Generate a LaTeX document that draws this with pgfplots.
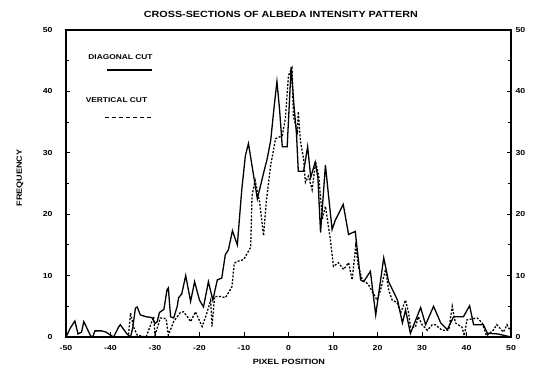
\documentclass[border=0pt]{standalone}
\usepackage{pgfplots}
\pgfplotsset{compat=1.18}
\usepackage{fontspec}
\setmainfont{Liberation Sans}
\newfontfamily\pf{Liberation Sans}[FakeStretch=1.2]
\begin{document}
\begin{tikzpicture}
\pgfplotsset{
  common/.style={
    at={(0,0)}, anchor=south west,
    scale only axis, width=445bp, height=307bp,
    xmin=-50, xmax=50, ymin=0, ymax=50,
    /pgf/number format/assume math mode=true,
    every tick label/.append style={font=\pf\bfseries\fontsize{7.3}{8}\selectfont},
  }
}
\begin{axis}[common,
  xtick={-50,-40,...,50}, ytick={0,10,...,50},
  minor y tick num=1,
  xtick pos=lower, ytick pos=both,
  tick align=inside,
  major tick length=4.5bp, minor tick length=3bp,
  axis line style={line width=1.1bp},
  every tick/.style={line width=0.9bp, black},
  yticklabel style={xshift=-10bp},
  xticklabel style={yshift=-5bp},
  clip=false,
]
\addplot[black, line width=1.3bp] coordinates {
(-50,0) (-49,1.5) (-48,2.6) (-47.3,0.5) (-46.5,0.8) (-46,2.5) (-45,1) (-44.5,0.2) (-44,0) (-43.5,1) (-42,1) (-41,0.8) (-40,0.3) (-39.3,0) (-38.2,1.6) (-37.8,2) (-37,1.2) (-36.3,0.5) (-35.5,0) (-35,1.5) (-34.4,4.7) (-34,4.9) (-33.3,3.6) (-32,3.3) (-31,3.2) (-30.6,3.1) (-30,2.2) (-29.5,2.5) (-29,4) (-28,4.5) (-27.3,7.7) (-27,8) (-26.5,3.3) (-25.8,3.1) (-25,5) (-24.7,6.4) (-24,7) (-23.1,10) (-22,5.8) (-21.1,9) (-20,6) (-19.1,4.9) (-18,9) (-17,6) (-16,9.3) (-15,9.6) (-14.2,13.4) (-13.5,14.2) (-12.6,17.3) (-11.5,15) (-10.5,24) (-9.7,29.5) (-9,31.5) (-8,27) (-7,22.5) (-6.5,24) (-5.5,27) (-4.8,29) (-4,32) (-3.3,37) (-2.6,41.6) (-2,37) (-1.4,31) (-0.3,31) (0.6,44) (1.2,38) (1.8,33) (2.2,27) (3.4,27) (4.3,31) (5,26) (6,28.5) (6.6,26) (7.2,17) (8.3,28) (9,23) (9.8,17.5) (10.5,19) (12.3,21.6) (13.5,16.7) (15,17.2) (16.2,9.3) (16.9,9) (18.4,10.7) (19.6,3.6) (21.4,12.9) (22.5,9) (24.5,6) (25.6,2.3) (26.3,4.4) (27.4,0.6) (29.7,4.8) (30.8,2) (32.6,5) (34.2,2.3) (35.7,1.2) (37.1,3.3) (39.3,3.3) (40.7,5.1) (41.6,2) (43.8,2) (44.7,0.6) (47,0.5) (50,0)
};
\addplot[black, line width=1.3bp, dash pattern=on 2bp off 1.6bp] coordinates {
(-50,0) (-36,0) (-35.5,3.9) (-34.8,1.6) (-34,0.3) (-32,0) (-30.3,3.3) (-30,0.3) (-28.8,3.1) (-27.5,3) (-27,0.3) (-25.8,2.5) (-24.3,4) (-23.6,4.1) (-22.5,3.1) (-22,2.5) (-20.9,4.1) (-19.4,1.7) (-18.3,4) (-17.5,6) (-17.2,1.7) (-16.6,6.6) (-15.3,6.6) (-14.2,6.4) (-13.5,7.2) (-12.7,8.2) (-12.2,12) (-11.5,12.3) (-10.1,12.6) (-8.5,14.6) (-8.2,23) (-7.5,25.5) (-6.5,22) (-5.6,16.5) (-5,22) (-4,28) (-2.9,32.3) (-1.4,32.8) (-0.7,35.6) (0,42.6) (0.8,43.8) (1.1,36) (2,33.4) (2.2,36.7) (2.7,31.8) (3.4,29) (3.8,25.2) (4.5,26.2) (5.3,24) (6.1,28.5) (6.8,26.2) (7.6,19.2) (8.3,21.3) (9.4,15.9) (10.1,11.5) (11.2,12.1) (12.4,11) (13.5,12.1) (14.3,9.3) (15.1,14.8) (15.7,11.5) (16.5,9.5) (18,8.5) (19.9,6) (20.7,7.7) (21.8,11) (22.5,7.7) (23.3,6) (24.4,5.6) (25.2,3.9) (26.3,6) (27,3.9) (27.4,1.6) (28.5,1.6) (29.2,3.3) (30,2) (31.2,1.1) (32.3,2) (33,2) (34.5,1.1) (36,1.1) (36.8,5) (37.5,2.3) (39,1.6) (39.5,0.2) (40.1,2.8) (42.4,3.1) (43.5,2.3) (44.5,0.2) (46,1.1) (46.8,2) (48.3,0.8) (49.1,2) (50,0.8)
};
% legend
\node[anchor=west, inner sep=0pt, font=\pf\bfseries\fontsize{7}{8}\selectfont] at (axis cs:-45,45.6) {DIAGONAL CUT};
\draw[black, line width=1.2bp] (axis cs:-40.8,43.5) -- (axis cs:-30.7,43.5);
\node[anchor=west, inner sep=0pt, font=\pf\bfseries\fontsize{7}{8}\selectfont] at (axis cs:-45.6,38.6) {VERTICAL CUT};
\draw[black, line width=1.2bp, dash pattern=on 4bp off 3bp] (axis cs:-41.2,35.8) -- (axis cs:-30.9,35.8);
% titles
\node[font=\pf\bfseries\fontsize{9}{10}\selectfont] at ([yshift=15.5bp]rel axis cs:0.483,1) {CROSS-SECTIONS OF ALBEDA INTENSITY PATTERN};
\node[font=\pf\bfseries\fontsize{7.6}{8}\selectfont] at ([yshift=-25bp]rel axis cs:0.501,0) {PIXEL POSITION};
\node[font=\pf\bfseries\fontsize{7.6}{8}\selectfont, rotate=90] at ([xshift=-46bp]rel axis cs:0,0.518) {FREQUENCY};
\end{axis}
\begin{axis}[common,
  axis line style={draw=none}, tick style={draw=none},
  xtick=\empty, ytick={0,10,...,50},
  yticklabel pos=right,
  yticklabel style={xshift=1bp},
]
\end{axis}
\pgfresetboundingbox
\useasboundingbox (-66bp,-33bp) rectangle (468bp,337bp);
\end{tikzpicture}
\end{document}
